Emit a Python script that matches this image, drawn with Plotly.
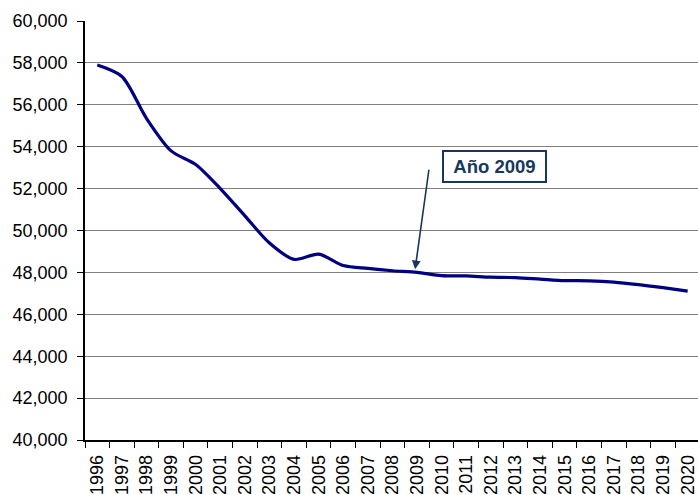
import plotly.graph_objects as go

years = [str(y) for y in range(1996, 2021)]
values = [57900, 57350, 55350, 53800, 53150, 52000, 50700, 49400, 48620, 48870,
          48330, 48190, 48080, 48000, 47850, 47830, 47770, 47750, 47680, 47610,
          47600, 47540, 47420, 47270, 47110]
y_ticks = list(range(40000, 60001, 2000))
annot_text = "Año 2009"
annot_year_index = 12.92
annot_value = 48150

fig = go.Figure()
fig.add_trace(go.Scatter(
    x=years, y=values, mode="lines",
    line=dict(color="#000080", width=3.2, shape="spline", smoothing=0.8),
    hoverinfo="x+y", showlegend=False,
))

font_family = "Liberation Sans, Arial, sans-serif"

fig.update_layout(
    width=698, height=495,
    margin=dict(l=85, r=0, t=21, b=55),
    paper_bgcolor="white", plot_bgcolor="white",
    font=dict(family=font_family, size=18, color="black"),
    xaxis=dict(
        type="category", range=[-0.5, 24.42],
        tickson="boundaries", ticks="outside", ticklen=6, tickcolor="black",
        tickwidth=1, tickangle=-90, automargin=False,
        showline=True, linecolor="black", linewidth=1.5,
        showgrid=False, zeroline=False, ticklabelstandoff=6,
        tickfont=dict(size=18, family=font_family),
        fixedrange=True,
    ),
    yaxis=dict(
        range=[40000, 60000], tickvals=y_ticks, tickformat=",",
        ticks="outside", ticklen=6, tickcolor="black", tickwidth=1,
        showline=True, linecolor="black", linewidth=1.5, automargin=False,
        showgrid=True, gridcolor="#808080", gridwidth=1.2,
        zeroline=False, ticklabelstandoff=6,
        tickfont=dict(size=18, family=font_family),
        fixedrange=True,
    ),
)

# arrow
fig.add_annotation(
    x=annot_year_index, y=annot_value, xref="x", yref="y",
    text="", showarrow=True, ax=14, ay=-101, axref="pixel", ayref="pixel",
    arrowhead=2, arrowsize=1.1, arrowwidth=1.6, arrowcolor="#17375E", standoff=0,
)
# text box
fig.add_annotation(
    x=16.15, y=53055, xref="x", yref="y",
    text="<b>" + annot_text + "</b>", showarrow=False,
    font=dict(family=font_family, size=18.5, color="#17375E"),
    bordercolor="#17375E", borderwidth=2, borderpad=2,
    width=97, height=25, bgcolor="white",
)

fig.write_html("out.html", config={"displayModeBar": False},
               post_script="document.body.style.margin='0';document.body.style.overflow='hidden';")
